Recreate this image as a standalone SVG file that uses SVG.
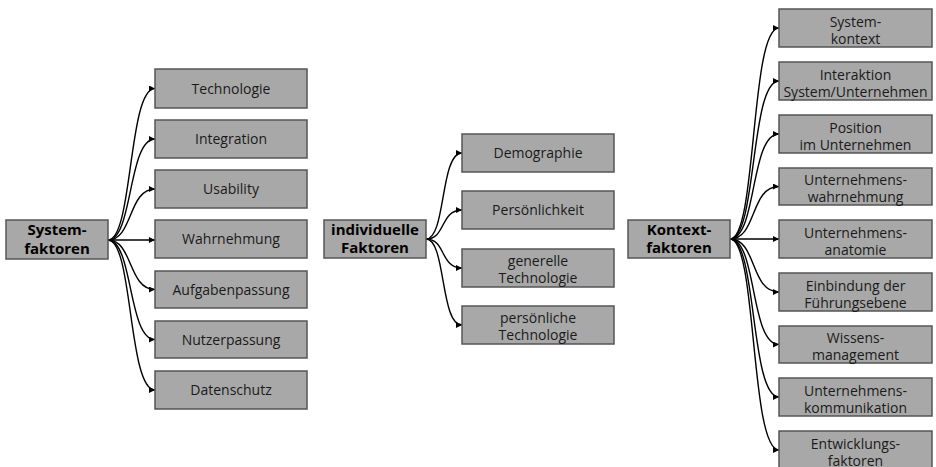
<svg xmlns="http://www.w3.org/2000/svg" width="936" height="467" viewBox="0 0 936 467">
  <style>
    .box { fill: #a8a8a8; stroke: #555555; stroke-width: 1.5; }
    .lbl { font-family: "Open Sans", "Noto Sans", "DejaVu Sans", sans-serif; font-size: 14px; fill: #1a1a1a; text-anchor: middle; }
    .src { font-family: "Open Sans", "Noto Sans", "DejaVu Sans", sans-serif; font-size: 15px; font-weight: bold; fill: #000000; text-anchor: middle; }
    .edge { fill: none; stroke: #000000; stroke-width: 1.4; marker-end: url(#arrow); }
  </style>
  <defs>
    <marker id="arrow" markerWidth="6" markerHeight="6" refX="6" refY="3" orient="auto" markerUnits="userSpaceOnUse">
      <path d="M0,0 L6,3 L0,6 z" fill="#000000"/>
    </marker>
  </defs>
  <rect width="936" height="467" fill="#ffffff"/>

  <!-- connectors -->
  <g id="connectors">
    <!-- Systemfaktoren -->
    <path class="edge" d="M108,240 C133,240 128,88.5 155,88.5"/>
    <path class="edge" d="M108,240 C133,240 128,139 155,139"/>
    <path class="edge" d="M108,240 C133,240 128,189 155,189"/>
    <path class="edge" d="M108,240 L155,240"/>
    <path class="edge" d="M108,240 C133,240 128,289.5 155,289.5"/>
    <path class="edge" d="M108,240 C133,240 128,339.5 155,339.5"/>
    <path class="edge" d="M108,240 C133,240 128,390 155,390"/>
    <!-- individuelle Faktoren -->
    <path class="edge" d="M426,239 C446,239 440,153 462,153"/>
    <path class="edge" d="M426,239 C446,239 440,210 462,210"/>
    <path class="edge" d="M426,239 C446,239 440,268 462,268"/>
    <path class="edge" d="M426,239 C446,239 440,325 462,325"/>
    <!-- Kontextfaktoren -->
    <path class="edge" d="M730,239 C757,239 750,28 779,28"/>
    <path class="edge" d="M730,239 C757,239 750,81 779,81"/>
    <path class="edge" d="M730,239 C757,239 750,134 779,134"/>
    <path class="edge" d="M730,239 C757,239 750,186.5 779,186.5"/>
    <path class="edge" d="M730,239 L779,239"/>
    <path class="edge" d="M730,239 C757,239 750,292 779,292"/>
    <path class="edge" d="M730,239 C757,239 750,344.5 779,344.5"/>
    <path class="edge" d="M730,239 C757,239 750,397 779,397"/>
    <path class="edge" d="M730,239 C757,239 750,450 779,450"/>
  </g>

  <!-- Systemfaktoren group -->
  <g id="systemfaktoren">
    <rect class="box" x="6" y="220" width="102" height="39"/>
    <text class="src" x="57" y="235">System-</text>
    <text class="src" x="57" y="254">faktoren</text>
  </g>
  <g id="technologie"><rect class="box" x="155" y="69" width="152" height="39"/><text class="lbl" x="231" y="93.5">Technologie</text></g>
  <g id="integration"><rect class="box" x="155" y="120" width="152" height="38"/><text class="lbl" x="231" y="144">Integration</text></g>
  <g id="usability"><rect class="box" x="155" y="170" width="152" height="38"/><text class="lbl" x="231" y="194">Usability</text></g>
  <g id="wahrnehmung"><rect class="box" x="155" y="220" width="152" height="38"/><text class="lbl" x="231" y="244">Wahrnehmung</text></g>
  <g id="aufgabenpassung"><rect class="box" x="155" y="271" width="152" height="37"/><text class="lbl" x="231" y="294.5">Aufgabenpassung</text></g>
  <g id="nutzerpassung"><rect class="box" x="155" y="321" width="152" height="37"/><text class="lbl" x="231" y="344.5">Nutzerpassung</text></g>
  <g id="datenschutz"><rect class="box" x="155" y="371" width="152" height="38"/><text class="lbl" x="231" y="395">Datenschutz</text></g>

  <!-- individuelle Faktoren group -->
  <g id="individuelle-faktoren">
    <rect class="box" x="324" y="220" width="102" height="38"/>
    <text class="src" x="375" y="235">individuelle</text>
    <text class="src" x="375" y="253">Faktoren</text>
  </g>
  <g id="demographie"><rect class="box" x="462" y="134" width="152" height="38"/><text class="lbl" x="538" y="158">Demographie</text></g>
  <g id="persoenlichkeit"><rect class="box" x="462" y="191" width="152" height="38"/><text class="lbl" x="538" y="215">Persönlichkeit</text></g>
  <g id="generelle-technologie"><rect class="box" x="462" y="249" width="152" height="38"/><text class="lbl" x="538" y="266">generelle</text><text class="lbl" x="538" y="283">Technologie</text></g>
  <g id="persoenliche-technologie"><rect class="box" x="462" y="306" width="152" height="38"/><text class="lbl" x="538" y="323">persönliche</text><text class="lbl" x="538" y="340">Technologie</text></g>

  <!-- Kontextfaktoren group -->
  <g id="kontextfaktoren">
    <rect class="box" x="628" y="220" width="102" height="38"/>
    <text class="src" x="679" y="235">Kontext-</text>
    <text class="src" x="679" y="253">faktoren</text>
  </g>
  <g id="systemkontext"><rect class="box" x="779" y="9" width="153" height="38"/><text class="lbl" x="855.5" y="26.5">System-</text><text class="lbl" x="855.5" y="43.5">kontext</text></g>
  <g id="interaktion"><rect class="box" x="779" y="62" width="153" height="38"/><text class="lbl" x="855.5" y="79.5">Interaktion</text><text class="lbl" x="855.5" y="96.5">System/Unternehmen</text></g>
  <g id="position"><rect class="box" x="779" y="115" width="153" height="38"/><text class="lbl" x="855.5" y="132.5">Position</text><text class="lbl" x="855.5" y="149.5">im Unternehmen</text></g>
  <g id="unternehmenswahrnehmung"><rect class="box" x="779" y="168" width="153" height="37"/><text class="lbl" x="855.5" y="184.5">Unternehmens-</text><text class="lbl" x="855.5" y="201.5">wahrnehmung</text></g>
  <g id="unternehmensanatomie"><rect class="box" x="779" y="220" width="153" height="38"/><text class="lbl" x="855.5" y="237.5">Unternehmens-</text><text class="lbl" x="855.5" y="254.5">anatomie</text></g>
  <g id="einbindung"><rect class="box" x="779" y="273" width="153" height="38"/><text class="lbl" x="855.5" y="290.5">Einbindung der</text><text class="lbl" x="855.5" y="307.5">Führungsebene</text></g>
  <g id="wissensmanagement"><rect class="box" x="779" y="326" width="153" height="37"/><text class="lbl" x="855.5" y="342.5">Wissens-</text><text class="lbl" x="855.5" y="359.5">management</text></g>
  <g id="unternehmenskommunikation"><rect class="box" x="779" y="378" width="153" height="38"/><text class="lbl" x="855.5" y="395.5">Unternehmens-</text><text class="lbl" x="855.5" y="412.5">kommunikation</text></g>
  <g id="entwicklungsfaktoren"><rect class="box" x="779" y="431" width="153" height="38"/><text class="lbl" x="855.5" y="448.5">Entwicklungs-</text><text class="lbl" x="855.5" y="465.5">faktoren</text></g>
</svg>
